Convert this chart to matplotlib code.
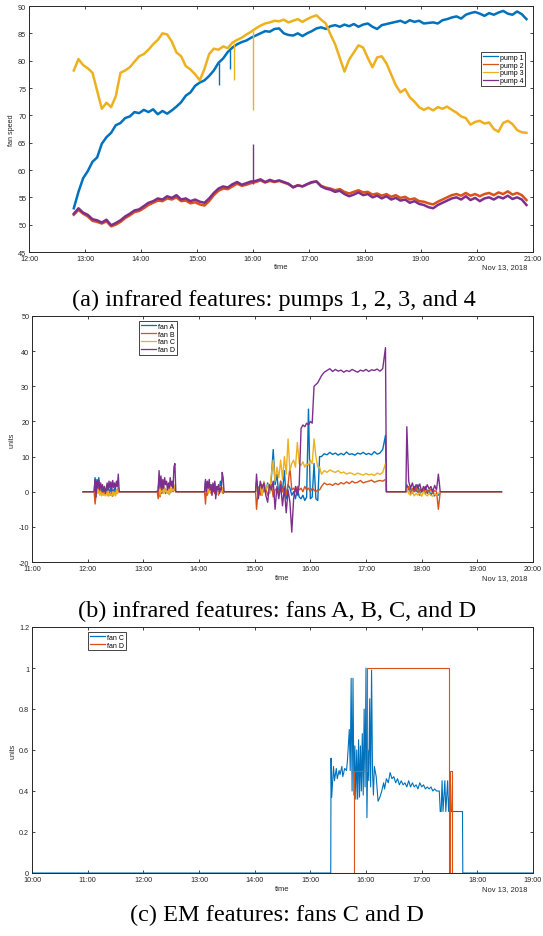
import numpy as np
import pandas as pd
import matplotlib
matplotlib.use("Agg")
import matplotlib.pyplot as plt
import matplotlib.dates as mdates
from matplotlib.ticker import FormatStrFormatter

DAY = "2018-11-13 "
COLORS = ["#0072BD", "#D95319", "#EDB120", "#7E2F8E"]

# ---------------- (a) pumps, 5 minute samples from 12:48 ----------------
pump_start = "12:48"
pump1 = [53.0, 56.0, 58.5,
         59.8, 61.5, 62.3, 64.8, 66.0, 66.8, 68.2, 68.6, 69.5, 69.8, 70.6, 70.4,
         71.0, 70.6, 71.1, 70.2, 70.8, 70.3, 70.9, 71.6, 72.4, 73.6, 74.2, 75.4,
         76.0, 76.4, 77.2, 78.2, 79.6, 80.4, 81.6, 82.4, 83.0, 83.4, 83.7, 84.2,
         84.6, 85.0, 85.4, 85.3, 85.8, 85.9, 85.0, 84.7, 84.6, 85.0, 84.5, 85.0,
         85.4, 85.9, 86.1, 85.8, 86.3, 86.5, 86.2, 86.6, 86.3, 86.7, 86.2, 86.6,
         86.8, 86.2, 85.8, 86.5, 86.7, 86.9, 87.1, 87.3, 86.9, 87.4, 87.1, 87.3,
         86.8, 86.9, 87.0, 86.8, 87.4, 87.6, 87.9, 88.1, 87.7, 88.4, 88.7, 88.9,
         88.6, 88.2, 88.7, 88.4, 88.8, 89.1, 88.6, 88.4, 89.0, 88.5, 87.6]
pump2 = [51.8, 52.7, 52.0,
         51.5, 50.7, 50.5, 50.2, 50.6, 49.7, 50.0, 50.5, 51.2, 51.7, 52.3, 52.5,
         53.0, 53.6, 54.0, 54.4, 54.3, 54.8, 54.6, 55.0, 54.3, 54.4, 53.9, 54.1,
         53.7, 53.5, 54.3, 55.4, 56.2, 56.6, 56.5, 57.0, 57.5, 57.1, 57.3, 57.6,
         57.8, 58.1, 57.7, 58.0, 57.8, 58.0, 57.7, 57.4, 56.9, 57.2, 57.0, 57.4,
         57.7, 57.9, 57.1, 56.8, 56.6, 56.3, 56.5, 56.0, 55.7, 56.0, 56.3, 55.9,
         56.0, 55.5, 55.7, 55.3, 55.6, 55.1, 55.4, 54.9, 55.1, 54.6, 54.8, 54.3,
         54.2, 53.9, 53.7, 54.2, 54.6, 55.0, 55.4, 55.6, 55.3, 55.8, 55.3, 55.6,
         55.2, 55.6, 55.8, 55.4, 55.9, 55.6, 56.1, 55.5, 55.8, 55.4, 54.5]
pump3 = [78.2, 80.3, 79.2,
         78.6, 77.8, 74.5, 71.2, 72.3, 71.5, 73.5, 77.8, 78.2, 78.8, 79.8, 80.8,
         81.2, 82.0, 83.0, 83.8, 85.0, 84.8, 83.5, 81.5, 80.8, 79.0, 78.4, 77.5,
         76.4, 78.5, 81.2, 82.2, 82.0, 82.6, 82.3, 83.3, 83.8, 84.2, 84.8, 85.3,
         85.9, 86.4, 86.8, 87.0, 87.3, 87.2, 87.5, 87.0, 87.3, 87.6, 87.1, 87.6,
         88.0, 88.3, 87.5, 86.8, 84.8, 83.0, 80.5, 78.0, 80.2, 81.5, 82.8, 82.4,
         80.5, 78.8, 80.6, 80.8, 79.5, 77.5, 75.5, 74.2, 74.8, 73.3, 72.5, 71.5,
         71.0, 71.4, 70.9, 71.5, 71.2, 71.6, 71.0, 70.5, 69.8, 69.5, 68.3, 68.8,
         69.0, 68.5, 68.7, 67.5, 67.0, 68.6, 69.0, 68.4, 67.3, 66.9, 66.8]
pump4 = [52.0, 53.0, 52.2,
         51.8, 51.0, 50.8, 50.4, 50.9, 49.9, 50.3, 50.8, 51.5, 52.0, 52.6, 52.8,
         53.4, 54.0, 54.3, 54.8, 54.6, 55.2, 54.9, 55.4, 54.6, 54.8, 54.3, 54.6,
         54.2, 54.0, 54.8, 55.8, 56.6, 57.0, 56.8, 57.4, 57.8, 57.3, 57.6, 57.9,
         58.0, 58.3, 57.8, 58.2, 57.9, 58.1, 57.8, 57.5, 56.8, 57.2, 57.0, 57.4,
         57.8, 57.9, 57.0, 56.6, 56.4, 56.0, 56.2, 55.6, 55.2, 55.5, 55.9, 55.4,
         55.6, 55.0, 55.3, 54.8, 55.2, 54.6, 54.9, 54.4, 54.6, 54.0, 54.3, 53.8,
         53.6, 53.2, 53.0, 53.6, 54.0, 54.4, 54.8, 55.0, 54.6, 55.2, 54.5, 54.9,
         54.3, 54.8, 55.0, 54.6, 55.1, 54.8, 55.3, 54.7, 55.0, 54.6, 53.6]
# short glitches: time, value before, extreme value
pump1_spike_t = ["15:24", "15:35"]
pump1_spike_base = [79.5, 82.0]
pump1_spike_peak = [75.5, 78.5]
pump3_spike_t = ["15:40", "16:00"]
pump3_spike_base = [83.3, 85.5]
pump3_spike_peak = [76.5, 71.0]
pump4_spike_t = ["16:00"]
pump4_spike_base = [57.5]
pump4_spike_peak = [64.8]
pump_labels = ["pump 1", "pump 2", "pump 3", "pump 4"]

# ---------------- (b) infrared fans ----------------
fan_on, fan_off = "11:55", "19:26"
seg_start = ["12:08", "13:16", "14:07", "15:02", "16:12", "17:44"]
seg_step = [1, 1, 1, 2, 3, 2]
fanA_segs = [
    [4.0, 0.5, 3.5, 2.0, 4.0, 1.0, 1.5, 0.0, 1.0, -0.5, 0.5, 0.0, 0.8, 0.2, 1.0, 0.5, 0.0, 1.0, -0.3, 0.5, 0.2, 1.0, 0.0, 0.5, 0.3, 1.2, 0.0],
    [1.0, 3.0, 0.5, 2.0, 0.0, 1.5, 0.5, 1.0, -0.5, 0.5, 0.0, 1.0, -0.8, 0.5, 0.0, 1.0, 0.2, 1.5, 0.5, 0.0],
    [3.0, 1.0, 2.5, 0.0, 1.5, 0.5, 2.0, -0.5, 1.0, 0.0, 2.5, -1.0, 0.5, 1.0, 0.0, 0.5, 3.0, 0.0, 1.0, 0.5, 0.0],
    [3.0, 0.5, 2.0, -1.0, 1.5, 0.0, 2.5, -0.5, 4.0, 12.0, 2.0, 5.0, -1.0, 3.0, 0.0, 6.0, -2.0, 2.0, 1.0, -1.0, 0.0, -2.0, 1.0, -1.5, -2.0, -1.0, -2.5, -1.5, 23.5, -2.0, -1.5, 8.0, -2.0, -2.5, 10.0],
    [10.0, 10.8, 10.5, 11.2, 10.6, 11.0, 10.4, 10.9, 10.5, 11.3, 10.6, 10.8, 10.4, 11.0, 10.7, 11.2, 10.6, 10.9, 10.5, 11.4, 10.7, 11.0, 12.0, 16.0],
    [2.0, 0.5, 1.0, -0.5, 1.5, 0.0, 2.0, -1.0, 0.5, 0.0, 1.5, -0.5, 0.5, -1.0, 0.0, -1.2, -0.5, -1.0, 0.0],
]
fanB_segs = [
    [-3.5, -1.0, 0.5, 0.0, 1.0, -0.5, 0.3, -1.0, 0.0, -0.8, 0.2, -1.0, -0.3, 0.0, -1.2, 0.0, -0.5, -1.0, 0.2, -1.3, -0.4, 0.0, -1.0, 0.3, -0.5, 0.5, 0.0],
    [-2.0, 1.0, -1.5, 0.5, -0.5, 0.5, 0.0, 0.8, -0.3, 0.5, 0.0, 0.3, -0.5, 0.5, 0.0, 0.8, 0.0, 1.0, 0.5, 0.0],
    [-3.5, 0.5, -1.0, 1.0, 0.0, 1.5, -0.5, 1.0, 0.0, 2.0, -0.5, 0.5, 0.0, 1.0, -1.0, 0.5, 0.0, 0.3, 1.0, -0.5, 0.0],
    [-5.0, 1.0, -1.0, 2.0, 0.0, 1.0, -1.0, 0.5, 2.0, -1.5, 0.5, 1.0, -0.5, 3.0, 0.0, 1.5, -1.0, 2.0, 7.0, 0.5, 1.0, 0.0, 1.5, 0.5, 1.0, 0.0, 1.5, 0.5, 1.0, 0.0, 1.0, 0.5, 0.0, 0.5, 0.5],
    [1.5, 2.5, 2.0, 2.2, 1.8, 2.4, 2.0, 2.6, 2.2, 2.8, 2.3, 3.0, 2.5, 2.7, 3.2, 2.5, 2.8, 3.0, 3.3, 2.7, 3.0, 3.2, 3.0, 3.5],
    [0.0, 1.5, -0.5, 1.0, 0.0, 1.2, -0.3, 0.8, 0.0, 1.0, -0.5, 0.5, 0.0, 0.8, -0.5, 0.3, 0.0, -5.0, 0.0],
]
fanC_segs = [
    [2.0, -1.0, 1.0, -0.5, 0.5, -1.0, 0.0, -1.2, -0.5, -1.0, 0.0, -1.2, -0.3, -1.0, 0.2, -1.2, -0.6, -0.8, -1.2, 0.0, -1.0, -0.3, -1.2, 0.5, -0.5, 1.0, 0.0],
    [1.5, 2.0, -1.0, 1.5, 0.0, 1.0, -0.5, 1.0, 0.0, 0.5, -0.5, 0.8, -0.8, 1.2, 0.0, 1.0, 0.3, 2.0, 1.0, 0.0],
    [1.5, 0.0, 1.5, -0.5, 1.0, 0.0, 2.0, -1.0, 1.5, 0.5, 1.0, -0.5, 0.5, 1.0, -0.5, 0.5, 1.5, 0.0, 1.0, 0.0, 0.0],
    [2.0, 0.0, 1.5, -1.0, 3.0, 0.5, 2.0, -0.5, 5.0, 9.0, 3.0, 7.0, 4.0, 9.0, 3.5, 10.0, 5.0, 15.0, 6.0, 8.0, 9.0, 7.0, 14.0, 8.0, 7.5, 8.5, 7.0, 8.0, 7.5, 9.0, 8.0, 15.0, 10.0, 7.0, 7.0],
    [5.0, 6.0, 5.5, 6.2, 5.8, 5.5, 6.0, 5.3, 5.6, 5.0, 5.4, 5.2, 4.8, 5.3, 5.0, 4.7, 5.2, 4.8, 5.0, 4.6, 5.3, 4.9, 5.5, 8.0],
    [1.0, -0.5, -1.0, 0.0, -1.2, -0.5, -1.0, -0.3, -1.3, 0.0, -0.8, -1.2, -0.5, -1.0, -1.3, -0.6, -1.0, -0.5, 0.0],
]
fanD_segs = [
    [3.5, -1.5, 3.0, 1.0, 3.2, 0.5, 2.5, 1.0, 2.0, 0.0, 1.5, -0.5, 1.0, 2.5, 0.5, 3.0, 1.0, 2.8, 0.5, 3.2, 1.2, 2.5, 0.8, 3.0, 1.5, 5.0, 0.0],
    [0.5, 6.0, 1.0, 4.5, 0.5, 3.5, 1.0, 4.0, 2.0, 3.0, 0.5, 2.5, 1.0, 4.0, 1.5, 3.0, 1.0, 7.0, 8.0, 0.0],
    [3.5, 0.0, 3.0, 1.0, 3.5, 0.5, 2.0, -1.0, 2.5, 0.0, 3.0, -2.0, 1.5, 0.5, 2.0, -0.5, 1.0, 0.5, 5.5, 4.0, 0.0],
    [5.0, -2.0, 3.0, 1.0, 2.5, -1.0, -3.0, 2.0, 0.5, 3.0, -5.0, 1.5, -2.0, 2.0, -4.0, 1.0, -6.0, 0.5, -3.0, -11.5, -2.0, 1.5, -1.0, 2.0, 18.0, 19.0, 18.5, 19.5, 19.0, 20.0, 19.5, 30.0, 30.5, 31.0, 32.0],
    [33.0, 34.0, 34.5, 35.0, 34.2, 34.8, 34.3, 34.6, 34.0, 34.5, 34.2, 34.8, 34.4, 34.0, 34.6, 34.3, 34.8, 34.2, 34.7, 34.5, 34.9, 34.3, 35.0, 41.0],
    [18.5, 3.0, 1.0, 2.5, 0.5, 2.0, 1.0, 2.2, 0.0, 1.5, 0.5, 2.0, 0.8, 1.5, 0.0, 1.8, 0.5, 5.0, 0.0],
]
fan_labels = ["fan A", "fan B", "fan C", "fan D"]

# ---------------- (c) EM features ----------------
emC_t = ["10:00", "15:22", "15:22:20", "15:23", "15:25", "15:26", "15:28", "15:29", "15:31", "15:32",
         "15:34", "15:35", "15:37", "15:39", "15:40", "15:42", "15:43", "15:44", "15:45", "15:46",
         "15:47", "15:48", "15:49", "15:50", "15:51", "15:52", "15:53", "15:54", "15:55", "15:56",
         "15:57", "15:58", "15:59", "16:00", "16:01", "16:02", "16:03", "16:04", "16:05", "16:06",
         "16:07", "16:08", "16:09", "16:11", "16:13", "16:15", "16:17", "16:19", "16:20", "16:22",
         "16:24", "16:26", "16:28", "16:30", "16:32", "16:34", "16:36", "16:38", "16:40", "16:42",
         "16:44", "16:46", "16:48", "16:50", "16:52", "16:54", "16:56", "16:58", "17:00", "17:02",
         "17:04", "17:06", "17:08", "17:10", "17:12", "17:14", "17:16", "17:18", "17:19", "17:20",
         "17:21", "17:22", "17:23", "17:25", "17:26", "17:28", "17:29", "17:31", "17:32", "17:44",
         "17:44:20", "19:00"]
emC_v = [0, 0, 0.56, 0.37, 0.52, 0.45, 0.51, 0.46, 0.50, 0.48,
         0.52, 0.47, 0.51, 0.50, 0.55, 0.70, 0.50, 0.95, 0.40, 0.95,
         0.38, 0.62, 0.36, 0.60, 0.36, 0.65, 0.37, 0.62, 0.40, 0.68,
         0.38, 0.80, 0.42, 1.00, 0.27, 0.60, 0.45, 0.85, 0.42, 0.99,
         0.50, 0.38, 0.52, 0.47, 0.35, 0.37, 0.40, 0.44, 0.41, 0.46,
         0.44, 0.49, 0.46, 0.47, 0.44, 0.46, 0.43, 0.45, 0.43, 0.44,
         0.42, 0.45, 0.42, 0.44, 0.42, 0.43, 0.41, 0.44, 0.42, 0.43,
         0.41, 0.42, 0.41, 0.42, 0.40, 0.41, 0.40, 0.40, 0.40, 0.30,
         0.30, 0.45, 0.30, 0.45, 0.30, 0.45, 0.30, 0.45, 0.30, 0.30,
         0, 0]
emD_t = ["11:00", "15:47", "16:01", "17:29", "17:31", "17:33", "19:00"]
emD_v = [0, 0.5, 1.0, 0, 0.5, 0, 0]
em_labels = ["fan C", "fan D"]


def hm(times):
    return pd.to_datetime([DAY + t for t in times], format="mixed")


def fan_series(segs):
    ts = [pd.Timestamp(DAY + fan_on)]
    vs = [0.0]
    for start, step, vals in zip(seg_start, seg_step, segs):
        t = pd.date_range(DAY + start, periods=len(vals), freq=f"{step}min")
        if t[0] - ts[-1] > pd.Timedelta("5min"):
            ts += [ts[-1] + pd.Timedelta("1min"), t[0] - pd.Timedelta("1min")]
            vs += [0.0, 0.0]
        ts += list(t)
        vs += list(vals)
    ts += [ts[-1] + pd.Timedelta("1min"), pd.Timestamp(DAY + fan_off)]
    vs += [0.0, 0.0]
    return ts, vs


plt.rcParams["font.family"] = "Liberation Sans"
fig = plt.figure(figsize=(5.43, 9.37), dpi=100)
W, H = 543.0, 937.0


def style(ax, x0, x1, ylim, yticks, ylabel, xlab_y):
    ax.set_xlim(pd.Timestamp(DAY + x0), pd.Timestamp(DAY + x1))
    ax.set_ylim(*ylim)
    ax.set_yticks(yticks)
    ax.yaxis.set_major_formatter(FormatStrFormatter("%g"))
    ax.xaxis.set_major_locator(mdates.HourLocator())
    ax.xaxis.set_major_formatter(mdates.DateFormatter("%H:%M"))
    ax.tick_params(direction="in", top=True, right=True, length=2.4, width=0.6,
                   labelsize=5.2, colors="#262626")
    ax.tick_params(axis="x", pad=2.2)
    ax.tick_params(axis="y", pad=2.0)
    for s in ax.spines.values():
        s.set_color("#262626")
        s.set_linewidth(0.7)
    ax.set_ylabel(ylabel, fontsize=5.2, color="#262626", labelpad=2)
    pos = ax.get_position()
    fig.text((pos.x0 + pos.x1) / 2, 1 - xlab_y / H, "time", fontsize=5.5,
             color="#262626", ha="center", va="center")
    fig.text(pos.x1 - 6 / W, 1 - xlab_y / H, "Nov 13, 2018", fontsize=5.5,
             color="#262626", ha="right", va="center")


def legend(ax, labels, x, y):
    leg = ax.legend(labels, loc="upper left", bbox_to_anchor=(x / W, 1 - y / H),
                    bbox_transform=fig.transFigure, fontsize=5, handlelength=2.2,
                    handletextpad=0.3, borderpad=0.25, labelspacing=0.12,
                    fancybox=False, framealpha=1, borderaxespad=0)
    leg.get_frame().set_edgecolor("#262626")
    leg.get_frame().set_linewidth(0.6)
    for ln in leg.get_lines():
        ln.set_linewidth(0.9)


# panel (a)
ax1 = fig.add_axes([29 / W, 1 - 253 / H, 504 / W, 246 / H])
for vals, c, lab in zip([pump1, pump2, pump3, pump4], COLORS, pump_labels):
    t = pd.date_range(DAY + pump_start, periods=len(vals), freq="5min")
    ax1.plot(t, vals, color=c, lw=1.8, label=lab)
for st, sb, sp, c in [(pump1_spike_t, pump1_spike_base, pump1_spike_peak, COLORS[0]),
                      (pump3_spike_t, pump3_spike_base, pump3_spike_peak, COLORS[2]),
                      (pump4_spike_t, pump4_spike_base, pump4_spike_peak, COLORS[3])]:
    ax1.vlines(hm(st), sb, sp, color=c, lw=1.0)
style(ax1, "12:00", "21:00", (45, 90), np.arange(45, 91, 5), "fan speed", 268)
legend(ax1, pump_labels, 481, 53)

# panel (b)
ax2 = fig.add_axes([32 / W, 1 - 563 / H, 501 / W, 246 / H])
for segs, c in zip([fanA_segs, fanB_segs, fanC_segs, fanD_segs], COLORS):
    ts, vs = fan_series(segs)
    ax2.plot(ts, vs, color=c, lw=1.0)
style(ax2, "11:00", "20:00", (-20, 50), np.arange(-20, 51, 10), "units", 579)
legend(ax2, fan_labels, 139, 322)

# panel (c)
ax3 = fig.add_axes([32 / W, 1 - 874 / H, 501 / W, 246 / H])
ax3.plot(hm(emC_t), emC_v, color=COLORS[0], lw=0.8)
ax3.plot(hm(emD_t), emD_v, color=COLORS[1], lw=0.8, drawstyle="steps-post")
style(ax3, "10:00", "19:00", (0, 1.2), np.arange(0, 1.21, 0.2), "units", 890)
legend(ax3, em_labels, 88, 633)

cap = dict(ha="center", va="center", family="Liberation Serif", fontsize=17.5)
fig.text(274 / W, 1 - 300 / H, "(a) infrared features: pumps 1, 2, 3, and 4", **cap)
fig.text(277 / W, 1 - 611 / H, "(b) infrared features: fans A, B, C, and D", **cap)
fig.text(277 / W, 1 - 915 / H, "(c) EM features: fans C and D", **cap)

fig.savefig("out.png", dpi=100)
